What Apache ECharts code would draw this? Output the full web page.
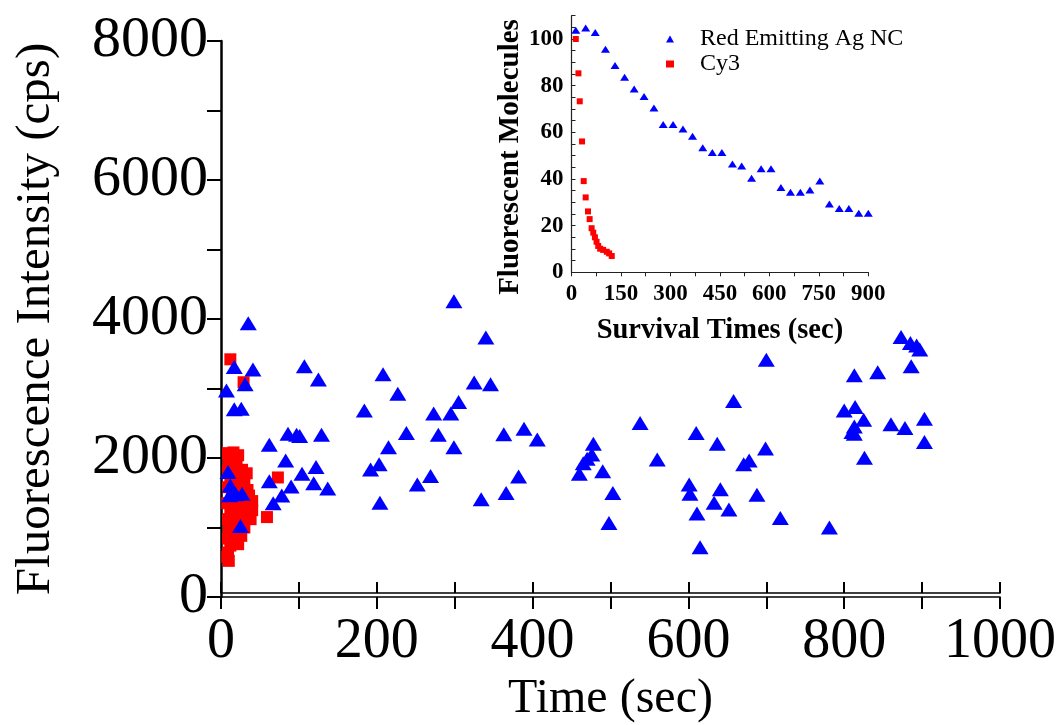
<!DOCTYPE html>
<html>
<head>
<meta charset="utf-8">
<script src="https://cdn.jsdelivr.net/npm/echarts@6/dist/echarts.min.js"></script>
<style>
html,body{margin:0;padding:0;background:#fff;}
#chart{width:1057px;height:725px;}
</style>
</head>
<body>
<div id="chart"></div>
<script>
// ---------- Main plot: Red Emitting Ag NC (time s, intensity cps) ----------
const agTime = [35,17,41,7,31,17,26,107,125,62,86,97,101,129,83,62,104,122,119,137,90,78,67,9,12,11,19,27,25,
  184,208,227,215,238,192,203,204,252,269,273,279,295,305,299,299,340,325,346,334,
  363,389,406,382,366,478,476,465,460,490,503,498,470,538,560,610,637,658,601,602,641,633,652,611,615,
  700,699,678,671,688,718,781,813,843,873,885,893,897,886,800,814,825,813,810,813,860,878,903,903,826];
const agIntensity = [3940,3310,3275,2970,3060,2700,2710,3320,3130,2190,2350,2335,2315,2335,1965,1665,1775,1870,1635,1560,1590,1460,1350,1800,1605,1465,1480,1485,1020,
  2685,3205,2925,2155,2360,1835,1910,1355,1620,1740,2640,2335,2640,2805,2155,4255,3735,3085,3060,1405,
  2340,2420,2265,1735,1495,2205,2050,1925,1775,1810,1495,1065,1990,2505,1980,2360,2205,2820,1620,1485,1550,1355,1260,1200,715,
  3415,2135,1965,1910,1470,1135,1000,3190,3235,3740,3655,3620,3560,3320,2685,2735,2550,2455,2375,2350,2485,2430,2565,2230,2005];

// ---------- Main plot: Cy3 ----------
const cy3Time = [12,29,59,73,
  9,16,22,10,20,9,18,27,33,30,12,22,9,17,26,34,36,28,14,8,19,30,40,40,33,23,12,
  9,18,28,38,30,20,10,26,16,9,22,12,9,10,8];
const cy3Intensity = [3420,3090,1150,1720,
  2070,2080,2040,1950,1930,1830,1800,1830,1780,1700,1700,1680,1580,1560,1600,1540,1460,1450,1450,1350,1330,1350,1380,1250,1200,1220,1230,
  1120,1100,1120,1120,1000,980,980,880,860,840,760,740,640,520,580];

// ---------- Inset: survival curves ----------
const agSurvTime = [13,43,72,103,132,161,190,220,250,278,308,338,367,398,427,456,488,516,546,575,605,635,664,694,723,753,782,812,841,871,900];
const agSurvCount = [103.8,104.7,102.8,95.6,88.6,83.6,78.6,75.4,70.4,63.4,63.4,61.4,58.3,53.4,51.4,51.4,46.4,45.6,40.3,44.4,44.4,36.3,34.3,34.3,35.3,39.1,29.3,27.3,27.3,25.3,25.3];
const cy3SurvTime = [13,21,25,32,37,43,50,55,61,66,71,76,81,87,96,107,114,122];
const cy3SurvCount = [100,85.3,73.3,56.1,39.1,32.1,26.1,22.8,18.9,17,15,13.1,11.3,10.1,9.6,8.8,8.1,7.0];

// ---------- Labels ----------
const seriesNames = ['Red Emitting Ag NC', 'Cy3'];
const mainXTitle = 'Time (sec)';
const mainYTitle = 'Fluorescence Intensity (cps)';
const insetXTitle = 'Survival Times (sec)';
const insetYTitle = 'Fluorescent Molecules';

const zip = (a, b) => a.map((v, i) => [v, b[i]]);
const FONT = 'Liberation Serif';

const chart = echarts.init(document.getElementById('chart'), null, {renderer: 'canvas'});
const option = {
  animation: false,
  backgroundColor: '#fff',
  textStyle: {fontFamily: FONT, color: '#000'},
  grid: [
    {left: 221, right: 57, top: 41, bottom: 128, containLabel: false, outerBoundsMode: 'none'},
    {left: 571.5, right: 188.7, top: 15.7, bottom: 452.7, containLabel: false, outerBoundsMode: 'none'}
  ],
  legend: {
    orient: 'vertical', left: 661, top: 22, itemGap: 1,
    itemWidth: 8, itemHeight: 7,
    data: [{name: seriesNames[0], icon: 'triangle'}, {name: seriesNames[1], icon: 'rect'}],
    textStyle: {fontFamily: FONT, fontSize: 24, color: '#000', padding: [0, 0, 0, 21]},
    selectedMode: false
  },
  xAxis: [
    { // main bottom line with outward ticks + labels
      gridIndex: 0, type: 'value', min: 0, max: 1000, interval: 100,
      axisLine: {onZero: false, lineStyle: {color: '#000', width: 1.6}},
      axisTick: {inside: false, length: 12, lineStyle: {color: '#000', width: 2}},
      splitLine: {show: false},
      axisLabel: {margin: 17, fontFamily: FONT, fontSize: 56, color: '#000',
        formatter: v => (v % 200 === 0 ? String(v) : '')},
      name: mainXTitle, nameLocation: 'middle', nameGap: 52,
      nameTextStyle: {fontFamily: FONT, fontSize: 48, color: '#000'}
    },
    { // second line of the double axis, inward ticks
      gridIndex: 0, type: 'value', min: 0, max: 1000, interval: 100, offset: -4,
      position: 'bottom',
      axisLine: {onZero: false, lineStyle: {color: '#000', width: 1.6}},
      axisTick: {inside: true, length: 11, lineStyle: {color: '#000', width: 2}},
      splitLine: {show: false}, axisLabel: {show: false}
    },
    { // inset
      gridIndex: 1, type: 'value', min: 0, max: 900, interval: 75,
      axisLine: {onZero: false, lineStyle: {color: '#222', width: 1.2}},
      axisTick: {inside: false, length: 4, lineStyle: {color: '#222', width: 1}},
      splitLine: {show: false},
      axisLabel: {margin: 10, fontFamily: FONT, fontSize: 23, fontWeight: 'bold', color: '#000',
        formatter: v => (v % 150 === 0 ? String(v) : '')},
      name: insetXTitle, nameLocation: 'middle', nameGap: 44,
      nameTextStyle: {fontFamily: FONT, fontSize: 28.5, fontWeight: 'bold', color: '#000'}
    }
  ],
  yAxis: [
    {
      gridIndex: 0, type: 'value', min: 0, max: 8000, interval: 1000,
      axisLine: {show: true, onZero: false, lineStyle: {color: '#000', width: 2.5}},
      axisTick: {show: true, inside: false, length: 14, lineStyle: {color: '#000', width: 2}},
      splitLine: {show: false},
      axisLabel: {margin: 13, fontFamily: FONT, fontSize: 58, color: '#000',
        formatter: v => (v % 2000 === 0 ? String(v) : '')},
      name: mainYTitle, nameLocation: 'middle', nameGap: 160,
      nameTextStyle: {fontFamily: FONT, fontSize: 49, color: '#000'}
    },
    {
      gridIndex: 1, type: 'value', min: 0, max: 110, interval: 5,
      axisLine: {show: true, onZero: false, lineStyle: {color: '#222', width: 1.2}},
      axisTick: {show: true, inside: true, length: 4, lineStyle: {color: '#222', width: 1}},
      splitLine: {show: false},
      axisLabel: {margin: 8, fontFamily: FONT, fontSize: 23, fontWeight: 'bold', color: '#000',
        formatter: v => (v % 20 === 0 && v <= 100 ? String(v) : '')},
      name: insetYTitle, nameLocation: 'middle', nameGap: 46,
      nameTextStyle: {fontFamily: FONT, fontSize: 29, fontWeight: 'bold', color: '#000', padding: [0, 26, 0, 0]}
    }
  ],
  series: [
    {
      name: seriesNames[1], type: 'scatter', xAxisIndex: 0, yAxisIndex: 0,
      symbol: 'rect', symbolSize: 12, z: 2,
      itemStyle: {color: '#ff0000', opacity: 1},
      data: zip(cy3Time, cy3Intensity)
    },
    {
      name: seriesNames[0], type: 'scatter', xAxisIndex: 0, yAxisIndex: 0,
      symbol: 'triangle', symbolSize: [17, 14], z: 3,
      itemStyle: {color: '#0000ff', opacity: 1},
      data: zip(agTime, agIntensity)
    },
    {
      name: seriesNames[0], type: 'scatter', xAxisIndex: 2, yAxisIndex: 1,
      symbol: 'triangle', symbolSize: [9, 7], z: 3,
      itemStyle: {color: '#0000ff', opacity: 1},
      data: zip(agSurvTime, agSurvCount)
    },
    {
      name: seriesNames[1], type: 'scatter', xAxisIndex: 2, yAxisIndex: 1,
      symbol: 'rect', symbolSize: 6, z: 3,
      itemStyle: {color: '#ff0000', opacity: 1},
      data: zip(cy3SurvTime, cy3SurvCount)
    }
  ]
};
chart.setOption(option);
</script>
</body>
</html>
